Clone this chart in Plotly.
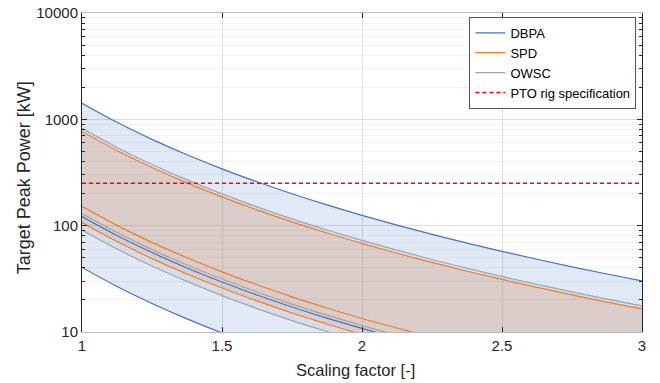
import plotly.graph_objects as go

# Scaling factor samples
scale = [1.0, 1.125, 1.25, 1.375, 1.5, 1.625, 1.75, 1.875, 2.0,
         2.125, 2.25, 2.375, 2.5, 2.625, 2.75, 2.875, 3.0]

# DBPA (kW): upper, middle, lower curves
dbpa_max = [1415, 936.9, 648.1, 464.2, 342.3, 258.7, 199.6, 156.8, 125.1,
            101.2, 82.8, 68.5, 57.3, 48.3, 41.0, 35.1, 30.3]
dbpa_mid = [122, 80.8, 55.9, 40.0, 29.5, 22.3, 17.2, 13.5, 10.8,
            8.72, 7.14, 5.91, 4.94, 4.16, 3.54, 3.03, 2.61]
dbpa_min = [40.5, 26.82, 18.55, 13.29, 9.80, 7.40, 5.71, 4.49, 3.58,
            2.90, 2.37, 1.96, 1.64, 1.38, 1.17, 1.01, 0.87]

# SPD (kW)
spd_max = [770, 509.9, 352.7, 252.6, 186.3, 140.8, 108.6, 85.3, 68.1,
           55.0, 45.1, 37.3, 31.2, 26.3, 22.3, 19.1, 16.5]
spd_mid = [152, 100.6, 69.6, 49.9, 36.8, 27.8, 21.4, 16.8, 13.4,
           10.9, 8.90, 7.36, 6.15, 5.19, 4.41, 3.77, 3.25]
spd_min = [107, 70.85, 49.0, 35.1, 25.9, 19.6, 15.1, 11.9, 9.46,
           7.65, 6.26, 5.18, 4.33, 3.65, 3.10, 2.66, 2.29]

# OWSC (kW)
owsc_max = [822, 544.3, 376.5, 269.7, 198.9, 150.3, 115.9, 91.1, 72.7,
            58.8, 48.1, 39.8, 33.3, 28.0, 23.8, 20.4, 17.6]
owsc_mid = [130, 86.1, 59.5, 42.6, 31.5, 23.8, 18.3, 14.4, 11.5,
            9.29, 7.61, 6.30, 5.26, 4.44, 3.77, 3.23, 2.78]
owsc_min = [91, 60.3, 41.7, 29.9, 22.0, 16.6, 12.8, 10.1, 8.04,
            6.51, 5.33, 4.41, 3.68, 3.11, 2.64, 2.26, 1.95]

pto_spec = 250  # kW
x_range = [1, 3]

y_tickvals = [10, 100, 1000, 10000]
y_ticktext = ["10", "100", "1000", "10000"]
y_minor_tickvals = [20, 30, 40, 50, 60, 70, 80, 90,
                    200, 300, 400, 500, 600, 700, 800, 900,
                    2000, 3000, 4000, 5000, 6000, 7000, 8000, 9000]
x_tickvals = [1, 1.5, 2, 2.5, 3]
x_ticktext = ["1", "1.5", "2", "2.5", "3"]

x_title = "Scaling factor [-]"
y_title = "Target Peak Power [kW]"

BLUE = "#4472C4"
ORANGE = "#ED7D31"
GRAY = "#A5A5A5"

fig = go.Figure()

def band(upper, lower, fillcolor):
    fig.add_trace(go.Scatter(x=scale, y=upper, mode="lines", line=dict(width=0, shape="spline"),
                             showlegend=False, hoverinfo="skip"))
    fig.add_trace(go.Scatter(x=scale, y=lower, mode="lines", line=dict(width=0, shape="spline"),
                             fill="tonexty", fillcolor=fillcolor, showlegend=False, hoverinfo="skip"))

band(dbpa_max, dbpa_min, "rgba(68,114,196,0.16)")
band(owsc_max, owsc_min, "rgba(165,165,165,0.18)")
band(spd_max, spd_min, "rgba(237,125,49,0.17)")

def line(y, color, name=None, show=False, width=1.2):
    fig.add_trace(go.Scatter(x=scale, y=y, mode="lines", name=name, showlegend=show,
                             line=dict(color=color, width=width, shape="spline")))

line(dbpa_max, BLUE, "DBPA", True)
line(dbpa_mid, BLUE)
line(dbpa_min, BLUE)
line(spd_max, ORANGE, "SPD", True)
line(spd_mid, ORANGE)
line(spd_min, ORANGE)
line(owsc_max, GRAY, "OWSC", True)
line(owsc_mid, GRAY)
line(owsc_min, GRAY)

fig.add_trace(go.Scatter(x=x_range, y=[pto_spec, pto_spec], mode="lines",
                         name="PTO rig specification",
                         line=dict(color="#FF0000", width=1.5, dash="4px,3px")))

fig.update_layout(
    width=660, height=383,
    margin=dict(l=82, r=18, t=13, b=51),
    paper_bgcolor="white", plot_bgcolor="white",
    font=dict(family="Liberation Sans, Arial, sans-serif", size=15, color="#262626"),
    legend=dict(x=0.99, y=0.988, xanchor="right", yanchor="top",
                traceorder="normal",
                bgcolor="white", bordercolor="#555555", borderwidth=1,
                font=dict(size=13, color="#000000"), itemwidth=30,
                tracegroupgap=0),
    xaxis=dict(
        range=x_range, tickvals=x_tickvals, ticktext=x_ticktext, automargin=False,
        showline=True, linecolor="#BBBBBB", linewidth=1, mirror="ticks",
        ticks="inside", ticklen=5, tickcolor="#262626",
        showgrid=True, gridcolor="#DDDDDD", zeroline=False,
    ),
    yaxis=dict(
        type="log", range=[1, 4], tickvals=y_tickvals, ticktext=y_ticktext, automargin=False,
        showline=True, linecolor="#262626", linewidth=1, mirror="ticks",
        ticks="inside", ticklen=5, tickcolor="#262626",
        showgrid=True, gridcolor="#DDDDDD", zeroline=False,
        minor=dict(tickvals=y_minor_tickvals, ticks="inside", ticklen=3, tickcolor="#262626",
                   showgrid=True, gridcolor="#F3F3F3"),
    ),
    annotations=[
        dict(text=x_title, xref="paper", yref="paper", x=0.4875, y=-0.119,
             xanchor="center", yanchor="middle", showarrow=False,
             font=dict(size=16.5, color="#262626")),
        dict(text=y_title, xref="paper", yref="paper", x=-0.1036, y=0.485,
             xanchor="center", yanchor="middle", showarrow=False, textangle=-90,
             font=dict(size=18, color="#262626")),
    ],
)

fig.write_html("out.html", config={"displayModeBar": False},
               post_script="document.body.style.margin='0px';document.body.style.overflow='hidden';")
